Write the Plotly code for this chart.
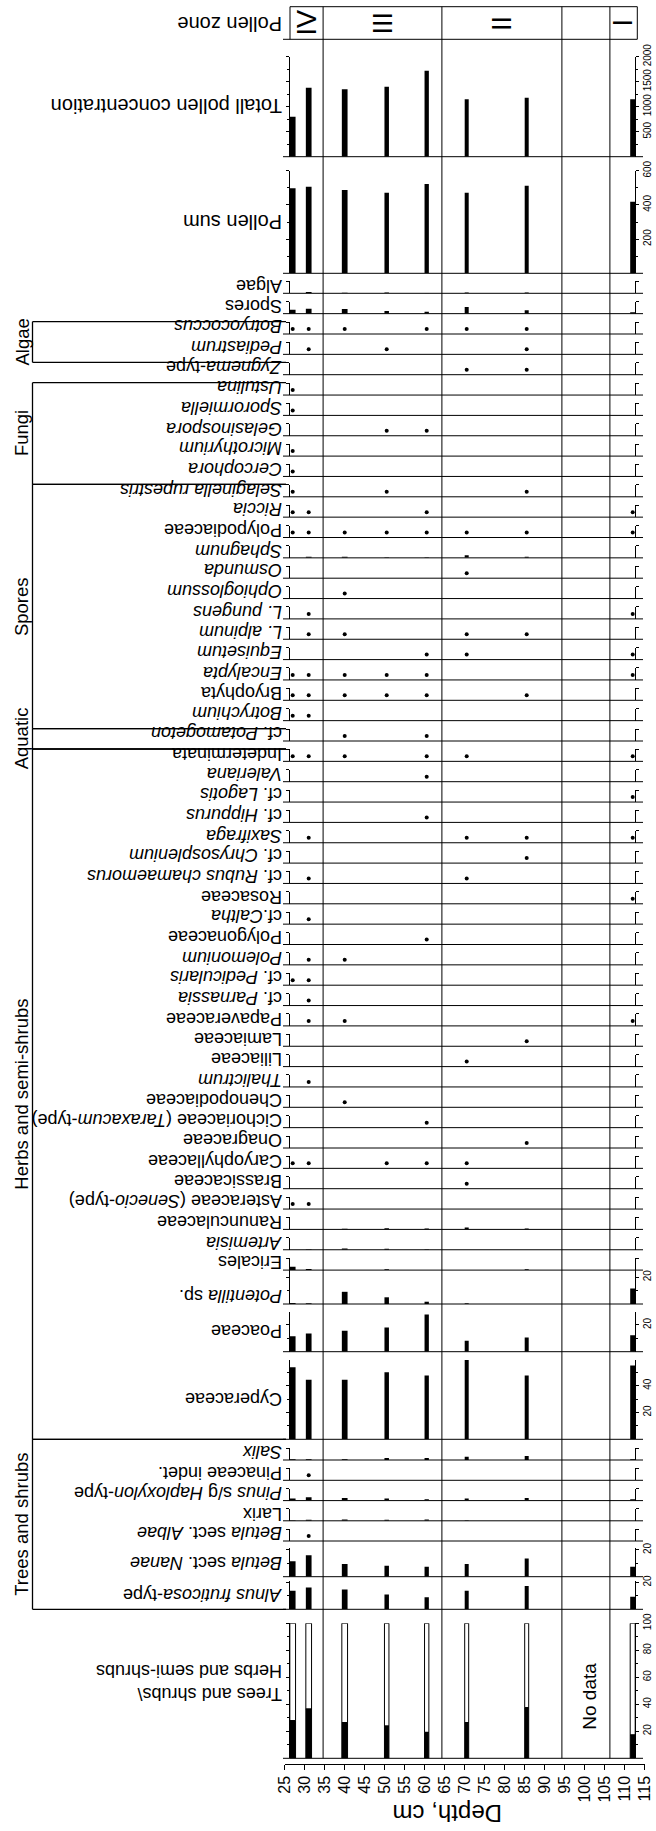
import plotly.graph_objects as go

# ---------------- data ----------------
DEPTHS = [27, 31, 40, 50.5, 60.5, 70.5, 85.5, 112]          # sample depths, cm
DEPTH_TICKS = list(range(25, 116, 5))
ZONE_BOUNDS = [34.6, 64.3, 94.3, 106.3]
ZONE_LABELS = ["IV", "III", "II", "", "I"]

CONCENTRATION = [800, 1380, 1347, 1400, 1720, 1147, 1180, 1147]
POLLEN_SUM = [497, 506, 487, 471, 522, 471, 512, 419]
ALGAE = [0, 1.0, 0.4, 0.6, 0.3, 0.6, 0.6, 0]
SPORES = [3.0, 3.7, 3.5, 2.0, 1.5, 5.0, 2.5, 1.0]
SPHAGNUM = [0, 0.8, 0.8, 0.4, 0.4, 2.0, 0.8, 0]
RANUNCULACEAE = [0, 0, 0.4, 0.8, 0.7, 1.5, 0.7, 0]
ARTEMISIA = [0, 0.4, 1.0, 0.7, 0.4, 0, 0, 0]
ERICALES = [2.5, 0.8, 0, 0.6, 0, 0, 0.6, 0]
POTENTILLA = [0.7, 0.5, 9.1, 5.0, 1.7, 0.5, 0, 11.6]
POACEAE = [11.6, 13.6, 15.6, 18.0, 27.7, 8.1, 10.6, 12.3]
CYPERACEAE = [53.8, 44.4, 44.4, 50.1, 47.6, 59.3, 47.6, 55.0]
SALIX = [0.5, 0.5, 0.5, 1.5, 1.5, 2.5, 3.0, 0.5]
PINUS = [1.5, 2.5, 2.0, 1.5, 1.0, 1.5, 2.0, 1.0]
LARIX = [0.5, 0.8, 1.0, 0.8, 1.0, 0.4, 0, 0]
BETULA_NANAE = [11.6, 16.0, 9.4, 8.1, 7.4, 9.4, 13.6, 7.4]
ALNUS = [13.8, 16.3, 14.8, 11.1, 8.9, 13.8, 17.3, 9.3]
TREES_SHRUBS = [27.9, 36.5, 26.5, 23.9, 19.2, 26.5, 37.5, 17.3]   # % ; herbs = 100 - trees

# presence (<1 %) marked by dots: depths where found
BOTRYOCOCCUS = [27, 31, 40, 60.5, 70.5, 85.5]
PEDIASTRUM = [31, 50.5, 85.5]
ZYGNEMA = [70.5, 85.5]
USTULINA = [27]
SPORORMIELLA = [27]
GELASINOSPORA = [50.5, 60.5]
MICROTHYRIUM = [27]
CERCOPHORA = [27]
SELAGINELLA = [27, 50.5, 85.5]
RICCIA = [27, 31, 60.5, 112]
POLYPODIACEAE = [27, 31, 40, 50.5, 60.5, 70.5, 85.5, 112]
OSMUNDA = [70.5]
OPHIOGLOSSUM = [40]
L_PUNGENS = [31, 112]
L_ALPINUM = [31, 40, 70.5, 85.5]
EQUISETUM = [60.5, 70.5, 112]
ENCALYPTA = [27, 31, 40, 50.5, 60.5, 112]
BRYOPHYTA = [27, 31, 40, 50.5, 60.5, 85.5]
BOTRYCHIUM = [27, 31]
POTAMOGETON = [40, 60.5]
INDETERMINATA = [27, 31, 40, 60.5, 70.5, 112]
VALERIANA = [60.5]
LAGOTIS = [112]
HIPPURUS = [60.5]
SAXIFRAGA = [31, 70.5, 85.5, 112]
CHRYSOSPLENIUM = [85.5]
RUBUS = [31, 70.5]
ROSACEAE = [112]
CALTHA = [31]
POLYGONACEAE = [60.5]
POLEMONIUM = [31, 40]
PEDICULARIS = [27, 31]
PARNASSIA = [31]
PAPAVERACEAE = [31, 40, 112]
LAMIACEAE = [85.5]
LILIACEAE = [70.5]
THALICTRUM = [31]
CHENOPODIACEAE = [40]
CICHORIACEAE = [60.5]
ONAGRACEAE = [85.5]
CARYOPHYLLACEAE = [27, 31, 50.5, 60.5, 70.5]
BRASSICACEAE = [70.5]
ASTERACEAE = [27, 31]
PINACEAE = [31]
BETULA_ALBAE = [31]

# ---------------- geometry / style ----------------
W, H = 656, 1831
FONT = "Liberation Sans, Arial, sans-serif"
BAR_W = [1.43, 1.43, 1.43, 1.12, 1.08, 1.0, 1.0, 1.25]   # bar widths in cm
PX_PCT = 1.34          # pixels per percent
SMALL_H = 12           # height of the small strips (px)
DOT_PX = 5             # dot offset above baseline (px)
LABEL_X = 284          # right edge of taxon names (px)
LABEL_SIZE = 18
X_LEFT, X_RIGHT = 284.7, 644.7   # depth 25 / 115
STRIP_L, STRIP_R = 290, 635.3


def px(x):
    return x / W


def py(y):
    return 1 - y / H


PX_CM = (X_RIGHT - X_LEFT) / 90.0
X2_RANGE = [25 + (STRIP_L - X_LEFT) / PX_CM, 25 + (STRIP_R - X_LEFT) / PX_CM]

strips = []


def add(label, base, top, bars=None, dots=None, ticks=(), minor=(), per=PX_PCT,
        label_y=None, kind="bar", size=LABEL_SIZE):
    strips.append(dict(label=label, base=base, top=top, bars=bars, dots=dots,
                       ticks=list(ticks), minor=list(minor), per=per,
                       label_y=label_y, kind=kind, size=size))


add("Totall pollen concentration", 156.7, 56.7, bars=CONCENTRATION,
    ticks=[500, 1000, 1500, 2000], minor=[250, 750, 1250, 1750], per=0.05, size=20)
add("Pollen sum", 273.3, 170.7, bars=POLLEN_SUM, ticks=[200, 400, 600],
    minor=[100, 300, 500], per=0.171, size=20)

small = [
    ("Algae", ALGAE, None), ("Spores", SPORES, None),
    ("<i>Botryococcus</i>", None, BOTRYOCOCCUS), ("<i>Pediastrum</i>", None, PEDIASTRUM),
    ("<i>Zygnema</i>-type", None, ZYGNEMA), ("<i>Ustulina</i>", None, USTULINA),
    ("<i>Sporormiella</i>", None, SPORORMIELLA), ("<i>Gelasinospora</i>", None, GELASINOSPORA),
    ("<i>Microthyrium</i>", None, MICROTHYRIUM), ("<i>Cercophora</i>", None, CERCOPHORA),
    ("<i>Selaginella rupestris</i>", None, SELAGINELLA), ("<i>Riccia</i>", None, RICCIA),
    ("Polypodiaceae", None, POLYPODIACEAE), ("<i>Sphagnum</i>", SPHAGNUM, None),
    ("<i>Osmunda</i>", None, OSMUNDA), ("<i>Ophioglossum</i>", None, OPHIOGLOSSUM),
    ("<i>L. pungens</i>", None, L_PUNGENS), ("<i>L. alpinum</i>", None, L_ALPINUM),
    ("<i>Equisetum</i>", None, EQUISETUM), ("<i>Encalypta</i>", None, ENCALYPTA),
    ("Bryophyta", None, BRYOPHYTA), ("<i>Botrychium</i>", None, BOTRYCHIUM),
    ("cf. <i>Potamogeton</i>", None, POTAMOGETON), ("Indeterminata", None, INDETERMINATA),
    ("<i>Valeriana</i>", None, VALERIANA), ("cf. <i>Lagotis</i>", None, LAGOTIS),
    ("cf. <i>Hippurus</i>", None, HIPPURUS), ("<i>Saxifraga</i>", None, SAXIFRAGA),
    ("cf. <i>Chrysosplenium</i>", None, CHRYSOSPLENIUM),
    ("cf. <i>Rubus chamaemorus</i>", None, RUBUS), ("Rosaceae", None, ROSACEAE),
    ("cf.<i>Caltha</i>", None, CALTHA), ("Polygonaceae", None, POLYGONACEAE),
    ("<i>Polemonium</i>", None, POLEMONIUM), ("cf. <i>Pedicularis</i>", None, PEDICULARIS),
    ("cf. <i>Parnassia</i>", None, PARNASSIA), ("Papaveraceae", None, PAPAVERACEAE),
    ("Lamiaceae", None, LAMIACEAE), ("Liliaceae", None, LILIACEAE),
    ("<i>Thalictrum</i>", None, THALICTRUM), ("Chenopodiaceae", None, CHENOPODIACEAE),
    ("Cichoriaceae (<i>Taraxacum</i>-type)", None, CICHORIACEAE),
    ("Onagraceae", None, ONAGRACEAE), ("Caryophyllaceae", None, CARYOPHYLLACEAE),
    ("Brassicaceae", None, BRASSICACEAE), ("Asteraceae (<i>Senecio</i>-type)", None, ASTERACEAE),
    ("Ranunculaceae", RANUNCULACEAE, None), ("<i>Artemisia</i>", ARTEMISIA, None),
    ("Ericales", ERICALES, None),
]
SMALL0, STEP = 293.3, 20.35
small_base = {}
for i, (lab, bars, dots) in enumerate(small):
    b = SMALL0 + i * STEP
    small_base[i] = b
    add(lab, b, b - SMALL_H, bars=bars, dots=dots, label_y=b - 7.5)

add("<i>Potentilla</i> sp.", 1304, 1270, bars=POTENTILLA, ticks=[20], minor=[10],
    label_y=1296.5)
add("Poaceae", 1351.7, 1311.7, bars=POACEAE, ticks=[20], minor=[10])
add("Cyperaceae", 1439.3, 1360, bars=CYPERACEAE, ticks=[20, 40, 60], minor=[10, 30, 50])
add("<i>Salix</i>", 1460, 1460 - SMALL_H, bars=SALIX, label_y=1460 - 7.5)
add("Pinaceae indet.", 1480.3, 1480.3 - SMALL_H, dots=PINACEAE, label_y=1480.3 - 7.5)
add("<i>Pinus</i> s/g <i>Haploxylon</i>-type", 1500.6, 1500.6 - SMALL_H, bars=PINUS,
    label_y=1500.6 - 7.5)
add("Larix", 1520.8, 1520.8 - SMALL_H, bars=LARIX, label_y=1520.8 - 7.5)
add("<i>Betula</i> sect. <i>Albae</i>", 1541, 1541 - SMALL_H, dots=BETULA_ALBAE,
    label_y=1541 - 7.5)
add("<i>Betula</i> sect. <i>Nanae</i>", 1576.7, 1548, bars=BETULA_NANAE, ticks=[20], minor=[10])
add("<i>Alnus fruticosa</i>-type", 1609.3, 1581, bars=ALNUS, ticks=[20], minor=[10])
add("Trees and shrubs\\<br>Herbs and semi-shrubs", 1758.3, 1623.3, bars=TREES_SHRUBS,
    ticks=[20, 40, 60, 80, 100], minor=[10, 30, 50, 70, 90], per=1.35, kind="stack",
    label_y=1683)

# ---------------- figure ----------------
fig = go.Figure()
layout = dict(
    width=W, height=H, margin=dict(l=0, r=0, t=0, b=0, pad=0, autoexpand=False),
    autosize=False,
    paper_bgcolor="white", plot_bgcolor="white", showlegend=False, barmode="overlay",
    font=dict(family=FONT, color="black", size=19),
    xaxis=dict(domain=[px(X_LEFT), px(X_RIGHT)], range=[25, 115], anchor="y",
               tickmode="array", tickvals=DEPTH_TICKS, ticks="outside", ticklen=5,
               tickcolor="black", tickangle=-90, tickfont=dict(size=16),
               showline=True, linecolor="black", linewidth=1, showgrid=False,
               zeroline=False, automargin=False, fixedrange=True),
    yaxis=dict(domain=[py(1763.5), py(1760)], visible=False, range=[0, 1],
               automargin=False, fixedrange=True),
    xaxis2=dict(domain=[px(STRIP_L), px(STRIP_R)], range=X2_RANGE, visible=False,
                anchor="free", position=0, automargin=False, fixedrange=True),
)
fig.add_trace(go.Scatter(x=[25], y=[-5], mode="markers", marker=dict(size=1, opacity=0),
                         xaxis="x", yaxis="y", hoverinfo="skip"))

shapes = []
annotations = []


def note(text, x, y, size, angle, xref="paper", xanchor="center", align="center"):
    annotations.append(dict(text=text, x=x, y=y, xref=xref, yref="paper",
                            xanchor=xanchor, yanchor="middle", showarrow=False,
                            textangle=angle, align=align, font=dict(size=size)))


for k, s in enumerate(strips):
    ax = k + 3
    yname = "y%d" % ax
    ymax = (s["base"] - s["top"]) / s["per"]
    ticks = s["ticks"] if s["ticks"] else [ymax]
    layout["yaxis%d" % ax] = dict(
        domain=[py(s["base"]), py(s["top"])], range=[0, ymax], anchor="x2", side="right",
        showline=True, linecolor="black", linewidth=1, mirror="ticks",
        tickmode="array", tickvals=ticks, ticktext=[str(t) for t in s["ticks"]] or [""],
        showticklabels=bool(s["ticks"]), ticks="outside", ticklen=3, tickcolor="black",
        tickangle=-90, tickfont=dict(size=10), showgrid=False, zeroline=False,
        automargin=False, fixedrange=True,
        minor=dict(tickvals=s["minor"], ticks="outside", ticklen=2, tickcolor="black",
                   showgrid=False),
    )
    if s["kind"] == "stack":
        herbs = [100 - t for t in s["bars"]]
        fig.add_trace(go.Bar(x=DEPTHS, y=herbs, base=s["bars"], width=BAR_W,
                             marker=dict(color="white", line=dict(color="black", width=1)),
                             xaxis="x2", yaxis=yname))
        fig.add_trace(go.Bar(x=DEPTHS, y=s["bars"], width=BAR_W,
                             marker=dict(color="black", line=dict(color="black", width=1)),
                             xaxis="x2", yaxis=yname))
    elif s["bars"] is not None:
        fig.add_trace(go.Bar(x=DEPTHS, y=s["bars"], width=BAR_W,
                             marker=dict(color="black", line=dict(width=0)),
                             xaxis="x2", yaxis=yname))
    if s["dots"] is not None:
        fig.add_trace(go.Scatter(x=s["dots"], y=[DOT_PX / s["per"]] * len(s["dots"]),
                                 mode="markers", marker=dict(color="black", size=4),
                                 xaxis="x2", yaxis=yname))
    # baseline
    shapes.append(dict(type="line", xref="paper", yref="paper", x0=px(283), x1=px(643),
                       y0=py(s["base"]), y1=py(s["base"]), line=dict(color="black", width=1)))
    ly = s["label_y"] if s["label_y"] is not None else (s["base"] + s["top"]) / 2
    note(s["label"], px(LABEL_X), py(ly), s["size"], 180, xanchor="right", align="left")

# zone lines
for zb in ZONE_BOUNDS:
    shapes.append(dict(type="line", xref="x", yref="paper", x0=zb, x1=zb,
                       y0=py(1758.3), y1=py(6.7), line=dict(color="black", width=1)))
# pollen zone box
shapes.append(dict(type="line", xref="paper", yref="paper", x0=px(STRIP_L), x1=px(637.3),
                   y0=py(6.7), y1=py(6.7), line=dict(color="black", width=1)))
shapes.append(dict(type="line", xref="paper", yref="paper", x0=px(283), x1=px(637.3),
                   y0=py(39.3), y1=py(39.3), line=dict(color="black", width=1)))
for xx in (STRIP_L, 637.3):
    shapes.append(dict(type="line", xref="paper", yref="paper", x0=px(xx), x1=px(xx),
                       y0=py(6.7), y1=py(39.3), line=dict(color="black", width=1)))
zone_edges = [X2_RANGE[0]] + ZONE_BOUNDS + [X2_RANGE[1]]
for i, zl in enumerate(ZONE_LABELS):
    if zl:
        note(zl, (zone_edges[i] + zone_edges[i + 1]) / 2, py(23), 27, -90, xref="x")
note("Pollen zone", px(LABEL_X), py(24), 20, 180, xanchor="right")

# group brackets
GX = 32.5
groups = [
    ("Algae", small_base[1] + 8, small_base[3] + 8),
    ("Fungi", small_base[4] + 8, small_base[9] + 8),
    ("Spores", small_base[9] + 8, small_base[21] + 8),
    ("Aquatic", small_base[21] + 8, small_base[22] + 8),
    ("Herbs and semi-shrubs", small_base[22] + 8, 1439.3),
    ("Trees and shrubs", 1439.3, 1609.3),
]
for name, y0, y1 in groups:
    shapes.append(dict(type="line", xref="paper", yref="paper", x0=px(GX), x1=px(GX),
                       y0=py(y0), y1=py(y1), line=dict(color="black", width=1.3)))
    for yy in (y0, y1):
        shapes.append(dict(type="line", xref="paper", yref="paper", x0=px(GX), x1=px(286),
                           y0=py(yy), y1=py(yy), line=dict(color="black", width=1.3)))
    note(name, px(21.5), py((y0 + y1) / 2), 18.5, -90)

note("No data", px(590), py(1696.7), 19, -90)
note("Depth, cm", px(448), py(1814), 24, 180)

layout["shapes"] = shapes
layout["annotations"] = annotations
fig.update_layout(**layout)
fig.write_html("out.html", config={"displayModeBar": False, "staticPlot": True},
               post_script="document.body.style.margin='0';"
                           "document.body.style.overflow='hidden';")
